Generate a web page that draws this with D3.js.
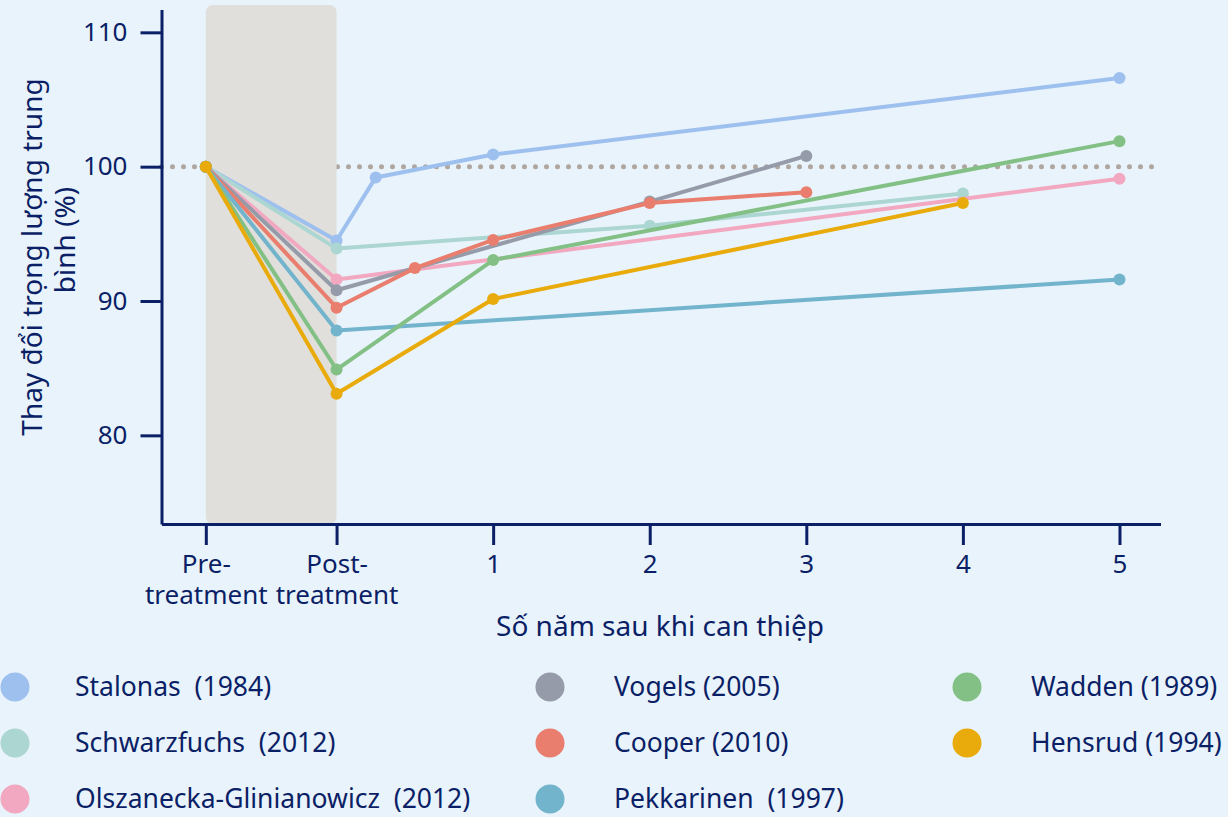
<!DOCTYPE html>
<html>
<head>
<meta charset="utf-8">
<script src="https://cdn.jsdelivr.net/npm/d3@7"></script>
<style>
body { margin: 0; background: #e9f3fb; }
svg text { font-family: "Noto Sans", sans-serif; fill: #0b1f66; white-space: pre; }
</style>
</head>
<body>
<div id="chart"></div>
<script>
// x value used for the "Pre-treatment" column (years after intervention)
var PRE = -0.835;

var studies = ["Stalonas  (1984)", "Schwarzfuchs  (2012)", "Olszanecka-Glinianowicz  (2012)",
	"Vogels (2005)", "Cooper (2010)", "Pekkarinen  (1997)", "Wadden (1989)", "Hensrud (1994)"];
var colors = ["#9dc0ef", "#acd6d2", "#f1a8c0", "#959ba8", "#e97e6f", "#73b4cd", "#83c085", "#e9ab0b"];

// [years, mean weight %]
var stalonas     = [[PRE, 100], [0, 94.5], [0.25, 99.2], [1, 100.9], [5, 106.6]];
var schwarzfuchs = [[PRE, 100], [0, 93.9], [2, 95.6], [4, 98.0]];
var olszanecka   = [[PRE, 100], [0, 91.6], [5, 99.1]];
var vogels       = [[PRE, 100], [0, 90.8], [2, 97.4], [3, 100.8]];
var cooper       = [[PRE, 100], [0, 89.5], [0.5, 92.45], [1, 94.55], [2, 97.3], [3, 98.1]];
var pekkarinen   = [[PRE, 100], [0, 87.8], [5, 91.6]];
var wadden       = [[PRE, 100], [0, 84.9], [1, 93.05], [5, 101.9]];
var hensrud      = [[PRE, 100], [0, 83.1], [1, 90.15], [4, 97.3]];

var series = [stalonas, schwarzfuchs, olszanecka, vogels, cooper, pekkarinen, wadden, hensrud];

var xTicks = [PRE, 0, 1, 2, 3, 4, 5];
var xTickLabels = [["Pre-", "treatment"], ["Post-", "treatment"], ["1"], ["2"], ["3"], ["4"], ["5"]];
var yTicks = [80, 90, 100, 110];

var margin = { left: 161.5, right: 67.5, top: 9.5, bottom: 293 };
var W = 1228, H = 817;
var width = W - margin.left - margin.right,
	height = H - margin.top - margin.bottom;

var svg = d3.select("#chart")
	.append("svg")
	.attr("width", W)
	.attr("height", H);

var g = svg.append("g")
	.attr("transform", "translate(" + margin.left + "," + margin.top + ")");

var x = d3.scaleLinear()
	.domain([-1.118, 5.262])
	.range([0, width]);

var y = d3.scaleLinear()
	.domain([73.4, 111.7])
	.range([height, 0]);

// reference line at 100%
g.append("line")
	.attr("x1", 0)
	.attr("x2", width)
	.attr("y1", y(100))
	.attr("y2", y(100))
	.attr("stroke", "#aea69f")
	.attr("stroke-width", 5)
	.attr("stroke-linecap", "round")
	.attr("stroke-dasharray", "0 11");

// treatment period band
g.append("rect")
	.attr("x", x(PRE))
	.attr("width", x(0) - x(PRE))
	.attr("y", -4.5)
	.attr("height", height + 4.5)
	.attr("rx", 7)
	.attr("fill", "#e0dfdb");

// axes
var xAxis = g.append("g")
	.attr("transform", "translate(0," + height + ")")
	.call(d3.axisBottom(x).tickValues(xTicks).tickSize(21).tickSizeOuter(0).tickFormat(""));

xAxis.selectAll(".tick").each(function(d, i) {
	var t = d3.select(this).append("text")
		.attr("text-anchor", "middle")
		.attr("font-size", "26px")
		.attr("y", 49);
	xTickLabels[i].forEach(function(s, j) {
		t.append("tspan").attr("x", 0).attr("dy", j === 0 ? 0 : 30.5).text(s);
	});
});

var yAxis = g.append("g")
	.call(d3.axisLeft(y).tickValues(yTicks).tickSize(21).tickSizeOuter(0).tickPadding(13));
yAxis.selectAll("text")
	.attr("font-size", "26px")
	.attr("font-family", "Noto Sans, sans-serif")
	.attr("fill", "#0b1f66");

g.selectAll(".domain, .tick line")
	.attr("stroke", "#0b1f66")
	.attr("stroke-width", 3);

// axis titles
svg.append("text")
	.attr("x", 660)
	.attr("y", 636)
	.attr("text-anchor", "middle")
	.attr("font-size", "28px")
	.text("Số năm sau khi can thiệp");

svg.append("text")
	.attr("transform", "translate(42,257) rotate(-90)")
	.attr("text-anchor", "middle")
	.attr("font-size", "28px")
	.text("Thay đổi trọng lượng trung");
svg.append("text")
	.attr("transform", "translate(75,240) rotate(-90)")
	.attr("text-anchor", "middle")
	.attr("font-size", "28px")
	.text("bình (%)");

// series
var line = d3.line()
	.x(function(d){ return x(d[0]); })
	.y(function(d){ return y(d[1]); });

series.forEach(function(s, i) {
	var sg = g.append("g");
	sg.append("path")
		.datum(s)
		.attr("d", line)
		.attr("fill", "none")
		.attr("stroke", colors[i])
		.attr("stroke-width", 4)
		.attr("stroke-linejoin", "round");
	sg.selectAll("circle")
		.data(s)
		.enter()
		.append("circle")
			.attr("cx", function(d){ return x(d[0]); })
			.attr("cy", function(d){ return y(d[1]); })
			.attr("r", 6)
			.attr("fill", colors[i]);
});

// legend, filled column by column
var legendCols = [15, 550, 967];
var legendTextX = [75, 614, 1031];
var legendRows = [687, 743, 799];
var legend = svg.append("g");
studies.forEach(function(name, i) {
	var c = Math.floor(i / 3), cy = legendRows[i % 3];
	legend.append("circle")
		.attr("cx", legendCols[c])
		.attr("cy", cy)
		.attr("r", 14.5)
		.attr("fill", colors[i]);
	legend.append("text")
		.attr("x", legendTextX[c])
		.attr("y", cy)
		.attr("dy", "0.35em")
		.attr("font-size", "26.5px")
		.text(name);
});
</script>
</body>
</html>
